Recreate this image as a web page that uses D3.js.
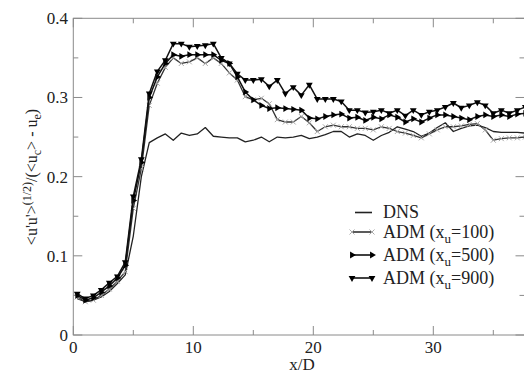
<!DOCTYPE html>
<html><head><meta charset="utf-8">
<script src="https://cdn.jsdelivr.net/npm/d3@7"></script>
<style>
body{margin:0;background:#fff}
svg{display:block}
#c text, #c tspan{font-family:"Liberation Serif","Times New Roman",Tinos,Times !important}
</style>
</head><body><svg id="c" width="524" height="373" font-family="Liberation Serif"></svg>
<script>
const xPos = [0.33,1,1.67,2.33,3,3.67,4.33,5,5.67,6.33,7,7.67,8.33,9,9.67,10.33,11,11.67,12.33,13,13.67,14.33,15,15.67,16.33,17,17.67,18.33,19,19.67,20.33,21,21.67,22.33,23,23.67,24.33,25,25.67,26.33,27,27.67,28.33,29,29.67,30.33,31,31.67,32.33,33,33.67,34.33,35,35.67,36.33,37,37.67];
const dns = [0.046,0.042,0.044,0.048,0.055,0.065,0.076,0.125,0.200,0.243,0.249,0.254,0.246,0.255,0.252,0.254,0.262,0.251,0.250,0.249,0.249,0.244,0.246,0.250,0.244,0.250,0.249,0.250,0.252,0.248,0.250,0.253,0.257,0.257,0.250,0.254,0.252,0.246,0.252,0.256,0.263,0.260,0.257,0.251,0.255,0.262,0.268,0.257,0.261,0.264,0.265,0.262,0.257,0.256,0.256,0.256,0.255];
const adm100 = [0.048,0.042,0.044,0.050,0.058,0.068,0.080,0.160,0.210,0.290,0.318,0.338,0.350,0.343,0.345,0.350,0.343,0.350,0.343,0.331,0.322,0.301,0.297,0.299,0.292,0.272,0.269,0.269,0.276,0.268,0.257,0.263,0.265,0.263,0.263,0.261,0.261,0.259,0.263,0.261,0.257,0.255,0.252,0.249,0.254,0.259,0.263,0.263,0.264,0.266,0.267,0.259,0.246,0.248,0.249,0.249,0.250];
const adm500 = [0.050,0.044,0.047,0.054,0.062,0.072,0.088,0.170,0.218,0.300,0.326,0.343,0.354,0.352,0.354,0.354,0.354,0.354,0.347,0.343,0.326,0.307,0.297,0.290,0.286,0.287,0.286,0.285,0.284,0.274,0.273,0.276,0.278,0.279,0.274,0.275,0.271,0.275,0.273,0.278,0.275,0.269,0.273,0.269,0.274,0.278,0.278,0.276,0.274,0.272,0.276,0.278,0.276,0.278,0.276,0.279,0.280];
const adm900 = [0.052,0.046,0.050,0.057,0.066,0.074,0.092,0.175,0.222,0.305,0.333,0.347,0.368,0.368,0.364,0.365,0.366,0.368,0.350,0.343,0.330,0.322,0.322,0.323,0.314,0.322,0.305,0.313,0.303,0.316,0.298,0.298,0.298,0.295,0.284,0.284,0.281,0.282,0.284,0.280,0.284,0.277,0.284,0.278,0.282,0.284,0.288,0.293,0.287,0.290,0.294,0.290,0.280,0.284,0.280,0.284,0.288];
const xTicks = [0,10,20,30];
const yTicks = [0,0.1,0.2,0.3,0.4];
const yTickLabels = ["0","0.1","0.2","0.3","0.4"];
const legendLabels = ["DNS","ADM (x","ADM (x","ADM (x"];
const legendSub = ["", "100", "500", "900"];

const FF = '"Liberation Serif"';
const svg = d3.select("#c");
const L=73.3, R=524.5, T=18.3, B=335;
const x = d3.scaleLinear().domain([0,37.6]).range([L,R]);
const y = d3.scaleLinear().domain([0,0.4]).range([B,T]);
const frameCol = "#8a8a8a";

svg.append("rect").attr("x",L).attr("y",T).attr("width",R-L).attr("height",B-T)
  .attr("fill","none").attr("stroke",frameCol).attr("stroke-width",1);

const xMinor = [5,15,25,35], yMinor=[0.05,0.15,0.25,0.35];
const tk = svg.append("g").attr("stroke",frameCol).attr("stroke-width",1);
xTicks.forEach(v=>{tk.append("line").attr("x1",x(v)).attr("x2",x(v)).attr("y1",B).attr("y2",B-9);
  tk.append("line").attr("x1",x(v)).attr("x2",x(v)).attr("y1",T).attr("y2",T+9);});
xMinor.forEach(v=>{tk.append("line").attr("x1",x(v)).attr("x2",x(v)).attr("y1",B).attr("y2",B-5);
  tk.append("line").attr("x1",x(v)).attr("x2",x(v)).attr("y1",T).attr("y2",T+5);});
yTicks.forEach(v=>{tk.append("line").attr("x1",L).attr("x2",L+9).attr("y1",y(v)).attr("y2",y(v));
  tk.append("line").attr("x1",R).attr("x2",R-9).attr("y1",y(v)).attr("y2",y(v));});
yMinor.forEach(v=>{tk.append("line").attr("x1",L).attr("x2",L+5).attr("y1",y(v)).attr("y2",y(v));
  tk.append("line").attr("x1",R).attr("x2",R-5).attr("y1",y(v)).attr("y2",y(v));});

function txt(g){ return g.append("text").style("font-family",FF); }
const lab = svg.append("g").attr("fill","#222");
xTicks.forEach(v=>txt(lab).attr("font-size",17).attr("x",x(v)).attr("y",353).attr("text-anchor","middle").text(v));
yTicks.forEach((v,i)=>txt(lab).attr("font-size",17).attr("x",68).attr("y",y(v)).attr("dy","0.35em").attr("text-anchor","end").text(yTickLabels[i]));

txt(lab).attr("font-size",17).attr("x",302).attr("y",370).attr("text-anchor","middle").text("x/D");
const yt = txt(svg).attr("font-size",16).attr("fill","#222")
  .attr("transform","translate(37,177) rotate(-90)").attr("text-anchor","middle");
yt.append("tspan").text("<u'u'>");
yt.append("tspan").attr("dy",-6).attr("font-size",12).text("(1/2)");
yt.append("tspan").attr("dy",6).text("/(<u");
yt.append("tspan").attr("dy",4).attr("font-size",12).text("c");
yt.append("tspan").attr("dy",-4).text("> - u");
yt.append("tspan").attr("dy",4).attr("font-size",12).text("e");
yt.append("tspan").attr("dy",-4).text(")");

const line = d3.line().x(d=>x(d[0])).y(d=>y(d[1]));
const pts = arr => arr.map((v,i)=>[xPos[i],v]);
const plot = svg.append("g");
const tri = d3.symbol().type(d3.symbolTriangle).size(20);
function marker(g,px,py,kind){
  if(kind==="down") g.append("path").attr("d",tri()).attr("transform",`translate(${px},${py}) rotate(180)`).attr("fill","#000");
  else if(kind==="right") g.append("path").attr("d",tri()).attr("transform",`translate(${px},${py}) rotate(90)`).attr("fill","#000");
  else if(kind==="x") g.append("path").attr("d",`M${px-2.5},${py-2.5}L${px+2.5},${py+2.5}M${px-2.5},${py+2.5}L${px+2.5},${py-2.5}`).attr("stroke","#aaa").attr("stroke-width",1).attr("fill","none");
}
const series = [
  {data:pts(dns), kind:null, col:"#222", w:1.3},
  {data:pts(adm100), kind:"x", col:"#333", w:1.3},
  {data:pts(adm500), kind:"right", col:"#111", w:1.5},
  {data:pts(adm900), kind:"down", col:"#111", w:1.5}
];
series.forEach(s=>{
  plot.append("path").datum(s.data).attr("d",line).attr("fill","none").attr("stroke",s.col).attr("stroke-width",s.w).attr("stroke-linejoin","round");
  if(s.kind) s.data.forEach(d=>marker(plot,x(d[0]),y(d[1]),s.kind));
});

const leg = svg.append("g");
const rowsY = [212.5, 232, 255, 278];
series.forEach((s,i)=>{
  const yy = rowsY[i];
  leg.append("line").attr("x1",i===0?355:352).attr("x2",372).attr("y1",yy).attr("y2",yy).attr("stroke",s.col).attr("stroke-width",1.6);
  if(s.kind) [352,372].forEach(px=>marker(leg,px,yy,s.kind));
  const t = txt(leg).attr("x",383).attr("y",yy+5.5).attr("font-size",18).attr("fill","#222");
  t.append("tspan").text(legendLabels[i]);
  if(legendSub[i]){
    t.append("tspan").attr("dy",5).attr("font-size",13).text("u");
    t.append("tspan").attr("dy",-5).text("="+legendSub[i]+")");
  }
});
</script></body></html>
